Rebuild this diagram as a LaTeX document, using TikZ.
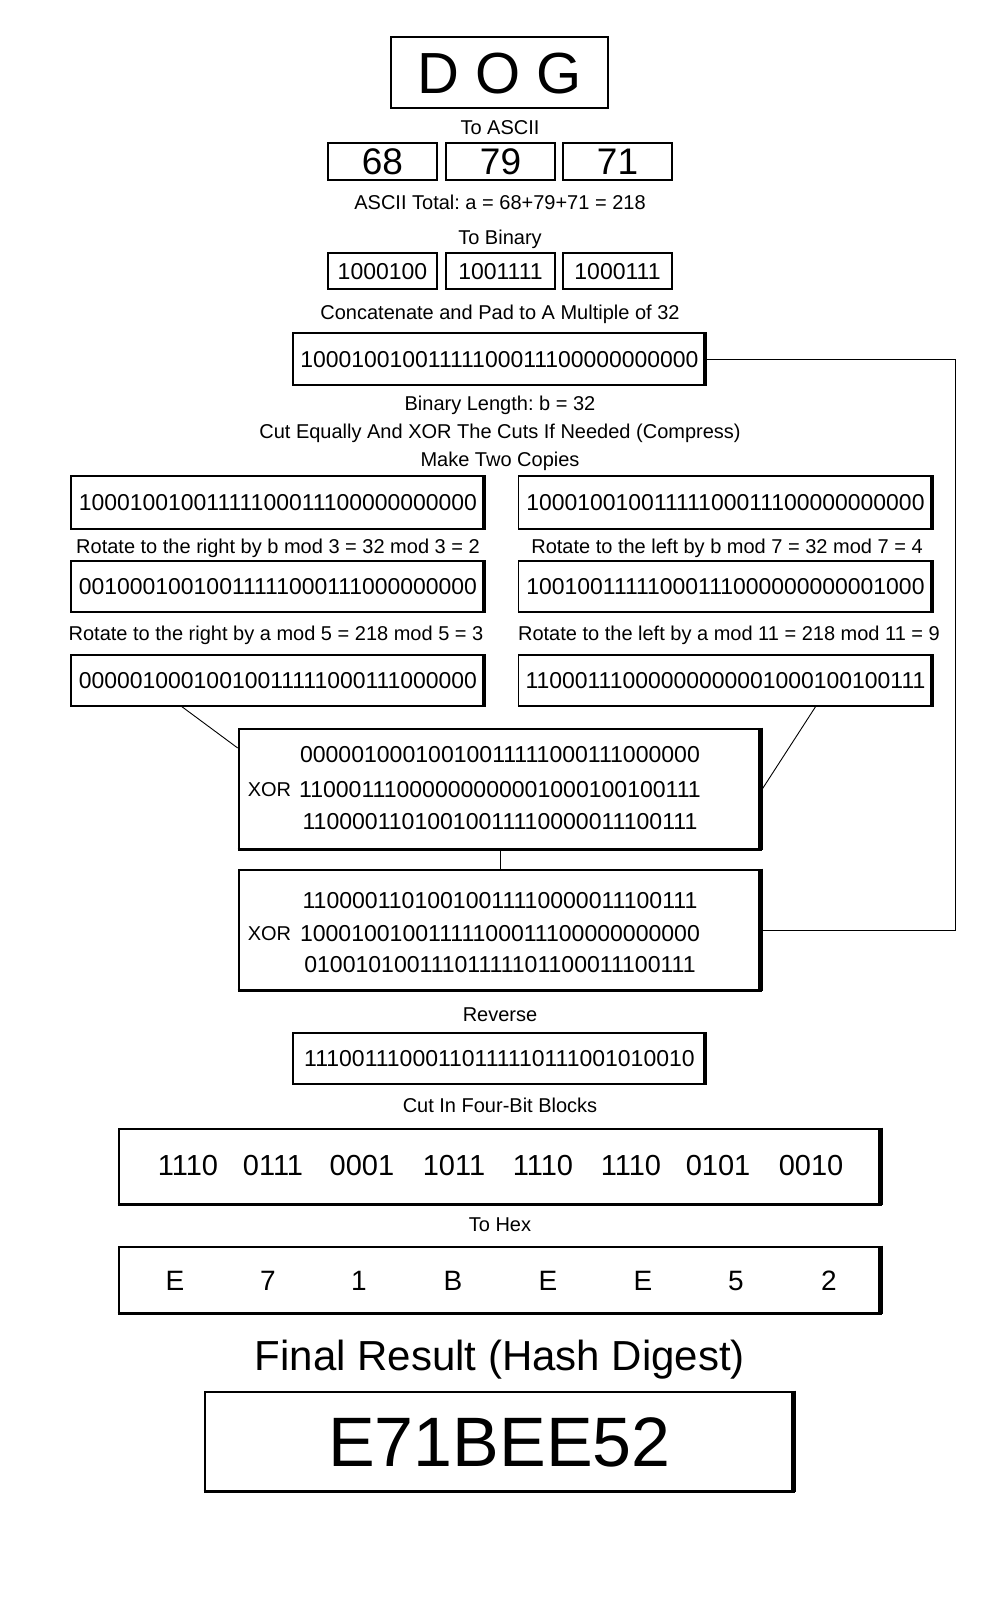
\documentclass[tikz,border=0pt]{standalone}
\usepackage{fontspec}
\setmainfont{Liberation Sans}
\usetikzlibrary{calc}
\newcommand{\fsz}[1]{\fontsize{#1}{#1}\selectfont}
\frenchspacing
\begin{document}
\frenchspacing
\begin{tikzpicture}[x=1pt,y=-1pt,
  fs/.style={font=\fsz{#1}, /utils/exec={\pgfmathsetmacro\fsth{0.716*#1}}, text height=\fsth pt, text depth=0pt},
  lbl/.style={inner sep=0pt, fs=20},
  smallbox/.style={draw, line width=1.3pt, inner sep=0pt},
  bbox/.style={draw, line width=1.5pt, inner sep=0pt, fs=22.95},
  heavybox/.style={draw, line width=2.6pt, inner sep=0pt},
  bits/.style={inner sep=0pt, fs=23.05},
  edge/.style={line width=0.9pt},
]
\useasboundingbox (0,0) rectangle (1000,1600);

% Title
\node[draw, line width=2.4pt, minimum width=217pt, minimum height=71pt, inner sep=0pt, fs=58] (dog) at (499.5,72.5) {D O G};
\node[lbl] (tascii) at (500,127) {To ASCII};

\node[smallbox, minimum width=109pt, minimum height=37pt, fs=37] (a1) at (382.5,161.5) {68};
\node[smallbox, minimum width=109pt, minimum height=37pt, fs=37] (a2) at (500.5,161.5) {79};
\node[smallbox, minimum width=109pt, minimum height=37pt, fs=37] (a3) at (617.5,161.5) {71};

\node[lbl] (atot) at (500,202) {ASCII Total: a = 68+79+71 = 218};
\node[lbl] (tbin) at (500,237) {To Binary};

\node[smallbox, minimum width=109pt, minimum height=36pt, fs=23] (b1) at (382.5,271) {1000100};
\node[smallbox, minimum width=109pt, minimum height=36pt, fs=23] (b2) at (500.5,271) {1001111};
\node[smallbox, minimum width=109pt, minimum height=36pt, fs=23] (b3) at (617.5,271) {1000111};

\node[lbl] (tcat) at (500,312) {Concatenate and Pad to A Multiple of 32};

\node[bbox, minimum width=413pt, minimum height=52pt] (pad) at (499.5,359) {10001001001111100011100000000000};

\node[lbl] (blen) at (500,403) {Binary Length: b = 32};
\node[lbl] (tcut) at (500,431) {Cut Equally And XOR The Cuts If Needed (Compress)};
\node[lbl] (tcop) at (500,459) {Make Two Copies};

\node[bbox, minimum width=414pt, minimum height=53pt] (L1) at (278,502.5) {10001001001111100011100000000000};
\node[bbox, minimum width=414pt, minimum height=53pt] (R1) at (725.5,502.5) {10001001001111100011100000000000};

\node[lbl] (tl1) at (278,546) {Rotate to the right by b mod 3 = 32 mod 3 = 2};
\node[lbl] (tr1) at (727,546) {Rotate to the left by b mod 7 = 32 mod 7 = 4};

\node[bbox, minimum width=414pt, minimum height=51pt] (L2) at (278,586.5) {00100010010011111000111000000000};
\node[bbox, minimum width=414pt, minimum height=51pt] (R2) at (725.5,586.5) {10010011111000111000000000001000};

\node[lbl] (tl2) at (276,633) {Rotate to the right by a mod 5 = 218 mod 5 = 3};
\node[lbl] (tr2) at (729,633) {Rotate to the left by a mod 11 = 218 mod 11 = 9};

\node[bbox, minimum width=414pt, minimum height=51pt] (L3) at (278,680.5) {00000100010010011111000111000000};
\node[bbox, minimum width=414pt, minimum height=51pt] (R3) at (725.5,680.5) {11000111000000000001000100100111};

% XOR boxes
\node[heavybox, minimum width=522pt, minimum height=120pt] (X1) at (500,789) {};
\node[bits] (x1a) at (500,754) {00000100010010011111000111000000};
\node[bits] (x1b) at (500,789) {11000111000000000001000100100111};
\node[bits] (x1c) at (500,821) {11000011010010011110000011100111};
\node[lbl] (x1x) at (269.5,789) {XOR};

\node[heavybox, minimum width=522pt, minimum height=120pt] (X2) at (500,930) {};
\node[bits] (x2a) at (500,900) {11000011010010011110000011100111};
\node[bits] (x2b) at (500,933) {10001001001111100011100000000000};
\node[bits] (x2c) at (500,964) {01001010011101111101100011100111};
\node[lbl] (x2x) at (269.5,933) {XOR};

\node[lbl] (trev) at (500,1014) {Reverse};
\node[bbox, minimum width=413pt, minimum height=51pt, fs=23] (rev) at (499.5,1058.5) {11100111000110111110111001010010};

\node[lbl] (tfour) at (500,1105) {Cut In Four-Bit Blocks};
\node[heavybox, minimum width=762pt, minimum height=75pt] (fb) at (500,1166.5) {};
\foreach \t/\xx [count=\i] in {1110/188,0111/273,0001/362,1011/454,1110/543,1110/631,0101/718,0010/811}
  \node[inner sep=0pt, fs=29] (fb\i) at (\xx,1165) {\t};

\node[lbl] (thex) at (500,1224) {To Hex};
\node[heavybox, minimum width=762pt, minimum height=66pt] (hex) at (500,1280) {};
\foreach \t/\xx [count=\i] in {E/175,7/268,1/359,B/453,E/548,E/643,5/736,2/829}
  \node[inner sep=0pt, fs=28] (hx\i) at (\xx,1280) {\t};

\node[lbl, fs=42] (tfin) at (500,1355) {Final Result (Hash Digest)};
\node[heavybox, minimum width=589pt, minimum height=99pt, fs=70] (fin) at (499.5,1441.5) {E71BEE52};

% shadows
\foreach \n in {pad,L1,R1,L2,R2,L3,R3,rev}{
  \draw[line width=4pt] ([xshift=-1.5pt]\n.north east) -- ([xshift=-1.5pt]\n.south east);
  \draw[line width=2.4pt] ([yshift=0.8pt]\n.south west) -- ([yshift=0.8pt]\n.south east);
}
\foreach \n in {X1,X2,fb,hex,fin}{
  \draw[line width=5pt] ([xshift=-2pt]\n.north east) -- ([xshift=-2pt]\n.south east);
  \draw[line width=3.6pt] ([yshift=1pt]\n.south west) -- ([yshift=1pt]\n.south east);
}

% connectors
\draw[edge] ([xshift=-96pt]L3.south) -- ([yshift=41pt]X1.west);
\draw[edge] ([xshift=90pt]R3.south) -- (X1.east);
\draw[edge] (X1.south) -- (X2.north);
\coordinate (fbk) at (955,0);
\draw[edge] (pad.east) -- (pad.east -| fbk) -- (X2.east -| fbk) -- (X2.east);
\end{tikzpicture}
\end{document}
